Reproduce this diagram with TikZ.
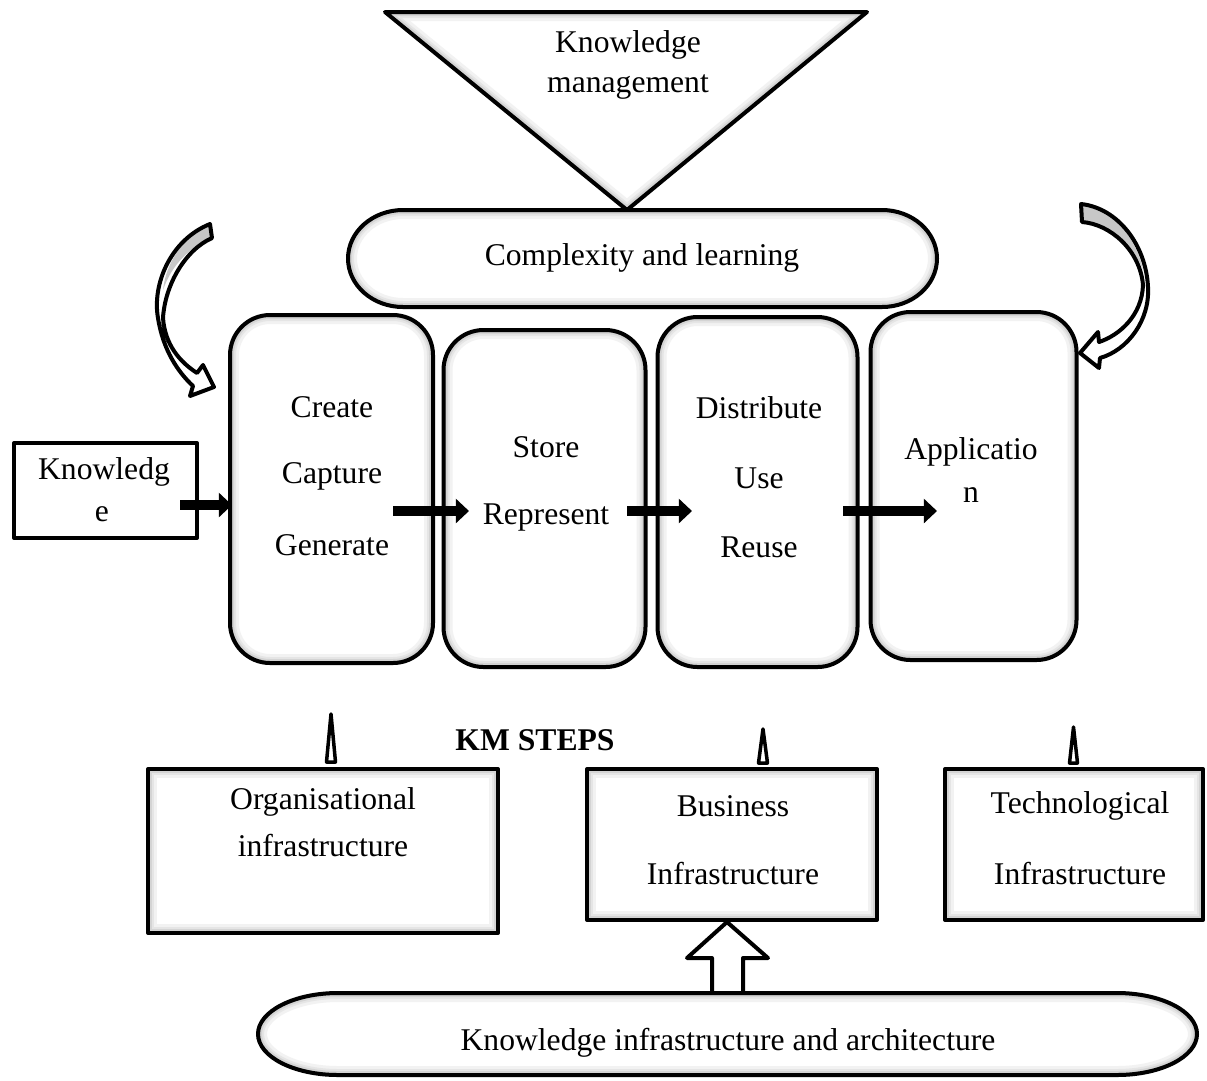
\documentclass[tikz,border=0pt]{standalone}
\usepackage{fontspec}
\setmainfont{Liberation Serif}
\usetikzlibrary{arrows.meta}
\newdimen\pxu
\pxu=0.02cm
% soft grey band just inside the outline of a free path
\newcommand\softedge[1]{%
  \begin{scope}
    \clip #1;
    \foreach \gw/\gc in {18/5,12/10,8/17,4/28}
      \draw[line width=\gw\pxu, black!\gc] #1;
  \end{scope}}
\begin{document}
\begin{tikzpicture}[x=0.02cm, y=-0.02cm,
  font=\fontsize{18}{22}\selectfont,
  outline/.style={draw=black, line width=4\pxu, line join=round},
  glow/.style={path picture={
    \foreach \gw/\gc in {18/5,12/10,8/17,4/28}
      \draw[line width=\gw\pxu, black!\gc, rounded corners=#1]
        (path picture bounding box.south west) rectangle (path picture bounding box.north east);}},
  stagebox/.style={outline, fill=white, rounded corners=40\pxu, glow=40\pxu, inner sep=0pt},
  infobox/.style={outline, fill=white, glow=0pt, inner sep=0pt},
  plainbox/.style={outline, fill=white, inner sep=0pt},
  txt/.style={inner sep=0pt, align=center},
  flow/.style={line width=5.4pt, -{Triangle[length=7.5pt,width=13.6pt]}},
  spike/.style={draw=black, line width=3.5\pxu, fill=white, line join=round},
  ribbonfill/.style={fill=white},
]
\useasboundingbox (0,0) rectangle (1207,1080);

% ---- knowledge management funnel
\fill[white] (385,12) -- (867,12) -- (627,210) -- cycle;
\softedge{(385,12) -- (867,12) -- (627,210) -- cycle}
\draw[outline] (385,12) -- (867,12) -- (627,210) -- cycle;
\node[txt] (km1) at (628,45) {Knowledge};
\node[txt] (km2) at (628,87) {management};

% ---- complexity and learning pill
\fill[white] (403,210) -- (882,210) arc[start angle=-90,end angle=90,x radius=55,y radius=48.5]
  -- (403,307) arc[start angle=90,end angle=270,x radius=55,y radius=48.5] -- cycle;
\softedge{(403,210) -- (882,210) arc[start angle=-90,end angle=90,x radius=55,y radius=48.5]
  -- (403,307) arc[start angle=90,end angle=270,x radius=55,y radius=48.5] -- cycle}
\draw[outline] (403,210) -- (882,210) arc[start angle=-90,end angle=90,x radius=55,y radius=48.5]
  -- (403,307) arc[start angle=90,end angle=270,x radius=55,y radius=48.5] -- cycle;
\node[txt] (cl) at (642,258) {Complexity and learning};

% ---- KM steps
\node[stagebox, minimum width=203\pxu, minimum height=348\pxu] (create) at (331.5,489) {};
\node[stagebox, minimum width=202\pxu, minimum height=337\pxu] (store) at (544.5,498.5) {};
\node[stagebox, minimum width=200\pxu, minimum height=350\pxu] (distr) at (757.5,492) {};
\node[stagebox, minimum width=206\pxu, minimum height=348\pxu] (appl) at (973.5,486) {};

\node[txt] (t11) at (332,407) {Create};
\node[txt] (t12) at (332,476) {Capture};
\node[txt] (t13) at (332,545) {Generate};
\node[txt] (t21) at (546,447) {Store};
\node[txt] (t22) at (546,517) {Represent};
\node[txt] (t31) at (759,408) {Distribute};
\node[txt] (t32) at (759,478) {Use};
\node[txt] (t33) at (759,547) {Reuse};
\node[txt] (t41) at (971,452) {Applicatio};
\node[txt] (t42) at (971,495) {n};

% ---- knowledge input
\node[plainbox, minimum width=183\pxu, minimum height=95\pxu] (know) at (105.5,490.5) {};
\node[txt] (k1) at (104,472) {Knowledg};
\node[txt] (k2) at (102,514) {e};

% ---- flow arrows between the steps
\coordinate (a1s) at (180,505); \coordinate (a1e) at (232,505);
\coordinate (a2s) at (393,511); \coordinate (a2e) at (469,511);
\coordinate (a3s) at (627,511); \coordinate (a3e) at (692,511);
\coordinate (a4s) at (843,511); \coordinate (a4e) at (937,511);
\draw[flow] (a1s) -- (a1e);
\draw[flow] (a2s) -- (a2e);
\draw[flow] (a3s) -- (a3e);
\draw[flow] (a4s) -- (a4e);

% ---- curved ribbon arrow, left
\path[ribbonfill] (210,224) -- (212,238)
  .. controls (185,250) and (165,285) .. (163,318)
  .. controls (165,345) and (180,362) .. (197,373)
  -- (203,365) -- (214,387) -- (190,396) -- (193,386)
  .. controls (178,372) and (163,350) .. (158,318)
  .. controls (152,285) and (170,240) .. (210,224) -- cycle;
\fill[black!22] (210,224) -- (212,238) .. controls (190,247) and (172,264) .. (163,290)
  .. controls (166,262) and (184,236) .. (210,224) -- cycle;
\draw[outline] (210,224) -- (212,238)
  .. controls (185,250) and (165,285) .. (163,318)
  .. controls (165,345) and (180,362) .. (197,373)
  -- (203,365) -- (214,387) -- (190,396) -- (193,386)
  .. controls (178,372) and (163,350) .. (158,318)
  .. controls (152,285) and (170,240) .. (210,224) -- cycle;

% ---- curved ribbon arrow, right
\path[ribbonfill] (1081,204) -- (1082,222)
  .. controls (1110,224) and (1140,250) .. (1143,285)
  .. controls (1142,315) and (1120,335) .. (1099,342)
  -- (1098,332) -- (1080,353) -- (1099,368) -- (1100,358)
  .. controls (1128,350) and (1150,320) .. (1148,287)
  .. controls (1146,245) and (1118,208) .. (1081,204) -- cycle;
\fill[black!22] (1081,204) -- (1082,222) .. controls (1110,224) and (1132,242) .. (1143,270)
  .. controls (1136,236) and (1110,208) .. (1081,204) -- cycle;
\draw[outline] (1081,204) -- (1082,222)
  .. controls (1110,224) and (1140,250) .. (1143,285)
  .. controls (1142,315) and (1120,335) .. (1099,342)
  -- (1098,332) -- (1080,353) -- (1099,368) -- (1100,358)
  .. controls (1128,350) and (1150,320) .. (1148,287)
  .. controls (1146,245) and (1118,208) .. (1081,204) -- cycle;

% ---- label of the step row
\node[txt, font=\fontsize{18}{22}\selectfont\bfseries] (steps) at (535,740) {KM STEPS};

% ---- infrastructure boxes
\node[infobox, minimum width=350\pxu, minimum height=164\pxu] (org) at (323,851) {};
\node[infobox, minimum width=290\pxu, minimum height=151\pxu] (bus) at (732,844.5) {};
\node[infobox, minimum width=258\pxu, minimum height=151\pxu] (tech) at (1074,844.5) {};
\node[txt] (o1) at (323,802) {Organisational};
\node[txt] (o2) at (323,846) {infrastructure};
\node[txt] (b1) at (733,806) {Business};
\node[txt] (b2) at (733,874) {Infrastructure};
\node[txt] (te1) at (1080,806) {Technological};
\node[txt] (te2) at (1080,874) {Infrastructure};

% ---- small spikes above the infrastructure boxes
\draw[spike] (326.5,762) -- (331,714) -- (335.5,762) -- cycle;
\draw[spike] (758.5,763) -- (763,729) -- (767.5,763) -- cycle;
\draw[spike] (1069.5,763) -- (1073.5,727) -- (1077.5,763) -- cycle;

% ---- block arrow from the base to the business box
\draw[outline, fill=white] (727,922) -- (768,958) -- (743,958) -- (743,994)
  -- (712,994) -- (712,958) -- (687,958) -- cycle;

% ---- knowledge infrastructure pill
\fill[white] (338,993) -- (1117,993) arc[start angle=-90,end angle=90,x radius=80,y radius=41]
  -- (338,1075) arc[start angle=90,end angle=270,x radius=80,y radius=41] -- cycle;
\softedge{(338,993) -- (1117,993) arc[start angle=-90,end angle=90,x radius=80,y radius=41]
  -- (338,1075) arc[start angle=90,end angle=270,x radius=80,y radius=41] -- cycle}
\draw[outline] (338,993) -- (1117,993) arc[start angle=-90,end angle=90,x radius=80,y radius=41]
  -- (338,1075) arc[start angle=90,end angle=270,x radius=80,y radius=41] -- cycle;
\node[txt] (kia) at (728,1043) {Knowledge infrastructure and architecture};
\end{tikzpicture}
\end{document}
